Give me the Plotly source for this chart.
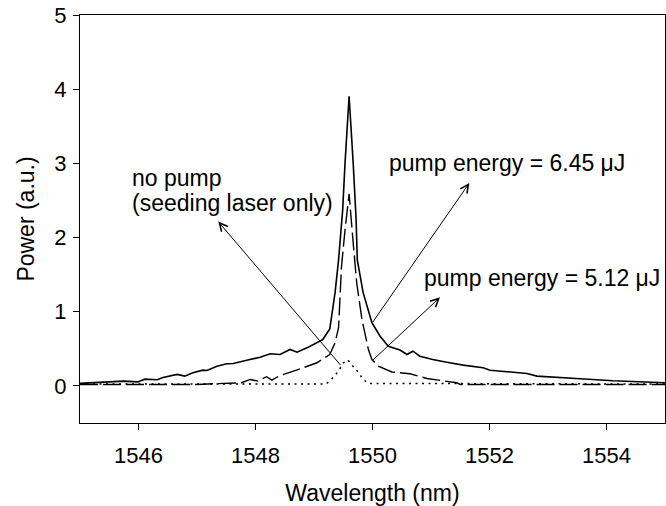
import plotly.graph_objects as go

# Spectra: wavelength (nm) and power (a.u.)
wl_high = [1545.00, 1545.74, 1545.99, 1546.11, 1546.32, 1546.42, 1546.66, 1546.79, 1546.93,
           1547.10, 1547.17, 1547.34, 1547.51, 1547.62, 1547.85, 1548.08, 1548.25, 1548.42,
           1548.59, 1548.71, 1548.88, 1549.05, 1549.15, 1549.27, 1549.36, 1549.42, 1549.49,
           1549.53, 1549.60, 1549.67, 1549.72, 1549.74, 1549.84, 1549.99, 1550.13, 1550.27,
           1550.47, 1550.59, 1550.69, 1550.81, 1551.03, 1551.27, 1551.55, 1551.89, 1552.01,
           1552.30, 1552.64, 1552.81, 1553.03, 1553.55, 1554.11, 1554.57, 1555.00]
pw_high = [0.034, 0.065, 0.054, 0.091, 0.083, 0.114, 0.155, 0.132, 0.177,
           0.212, 0.208, 0.266, 0.298, 0.302, 0.347, 0.387, 0.433, 0.423,
           0.491, 0.454, 0.513, 0.581, 0.625, 0.769, 1.257, 1.70, 2.37,
           3.00, 3.905, 3.00, 2.24, 1.70, 1.257, 0.853, 0.669, 0.535,
           0.484, 0.423, 0.468, 0.40, 0.356, 0.32, 0.28, 0.245, 0.212,
           0.191, 0.168, 0.132, 0.124, 0.097, 0.07, 0.051, 0.043]

wl_mid = [1545.00, 1547.00, 1547.76, 1547.91, 1548.04, 1548.19, 1548.28, 1548.42, 1548.70,
          1548.88, 1549.05, 1549.27, 1549.36, 1549.42, 1549.47, 1549.53, 1549.60, 1549.67,
          1549.73, 1549.82, 1549.93, 1549.99, 1550.10, 1550.33, 1550.64, 1550.93, 1551.21,
          1551.44, 1551.50, 1555.00]
pw_mid = [0.02, 0.02, 0.043, 0.087, 0.065, 0.124, 0.078, 0.141, 0.212,
          0.266, 0.312, 0.423, 0.58, 0.786, 1.61, 2.10, 2.59, 1.925,
          1.387, 0.894, 0.49, 0.356, 0.266, 0.188, 0.164, 0.10, 0.074,
          0.043, 0.02, 0.02]

wl_none = [1545.00, 1549.20, 1549.27, 1549.42, 1549.50, 1549.58, 1549.64, 1549.76, 1549.84,
           1549.93, 1555.00]
pw_none = [0.025, 0.025, 0.065, 0.20, 0.31, 0.35, 0.29, 0.18, 0.087, 0.034, 0.025]

x_ticks = [1546, 1548, 1550, 1552, 1554]
y_ticks = [0, 1, 2, 3, 4, 5]

FONT = "Liberation Sans, Arial, Helvetica, sans-serif"

fig = go.Figure()
fig.add_trace(go.Scatter(x=wl_none, y=pw_none, mode="lines",
                         line=dict(color="black", width=1.5, dash="2px,4.5px")))
fig.add_trace(go.Scatter(x=wl_mid, y=pw_mid, mode="lines",
                         line=dict(color="black", width=1.4, dash="18px,5px")))
fig.add_trace(go.Scatter(x=wl_high, y=pw_high, mode="lines",
                         line=dict(color="black", width=1.6)))

# Labels and arrows
labels = [
    dict(text="no pump", x=1545.855, y=2.80),
    dict(text="(seeding laser only)", x=1545.855, y=2.47),
    dict(text="pump energy = 6.45 \u03bcJ", x=1550.24, y=3.0),
    dict(text="pump energy = 5.12 \u03bcJ", x=1550.84, y=1.46),
]
for lb in labels:
    fig.add_annotation(text=lb["text"], x=lb["x"], y=lb["y"], xref="x", yref="y",
                       xanchor="left", yanchor="middle", showarrow=False,
                       font=dict(size=23, color="black", family=FONT))

arrows = [
    dict(x=1547.364, y=2.215, ax=1549.473, ay=0.262),
    dict(x=1551.655, y=2.735, ax=1549.986, ay=0.84),
    dict(x=1551.154, y=1.194, ax=1549.986, ay=0.333),
]
for ar in arrows:
    fig.add_annotation(text="", x=ar["x"], y=ar["y"], ax=ar["ax"], ay=ar["ay"],
                       xref="x", yref="y", axref="x", ayref="y",
                       showarrow=True, arrowhead=5, arrowsize=1.6, arrowwidth=1,
                       arrowcolor="black", standoff=0, startstandoff=0)

axis_common = dict(showline=True, linecolor="black", linewidth=1.2, mirror=True,
                   ticks="outside", ticklen=6, tickwidth=1.2, tickcolor="black",
                   showgrid=False, zeroline=False,
                   tickfont=dict(size=22, color="black", family=FONT))

fig.update_xaxes(range=[1545, 1555], tickvals=x_ticks, ticklabelstandoff=6,
                 title=dict(text="Wavelength (nm)", font=dict(size=23, color="black", family=FONT),
                            standoff=18),
                 **axis_common)
fig.update_yaxes(range=[-0.5, 5], tickvals=y_ticks, ticklabelstandoff=2,
                 title=dict(text="Power (a.u.)", font=dict(size=23, color="black", family=FONT),
                            standoff=13),
                 **axis_common)

fig.update_layout(width=666, height=506, margin=dict(l=80, r=1, t=15, b=83),
                  plot_bgcolor="white", paper_bgcolor="white", showlegend=False)

fig.write_html("out.html")
